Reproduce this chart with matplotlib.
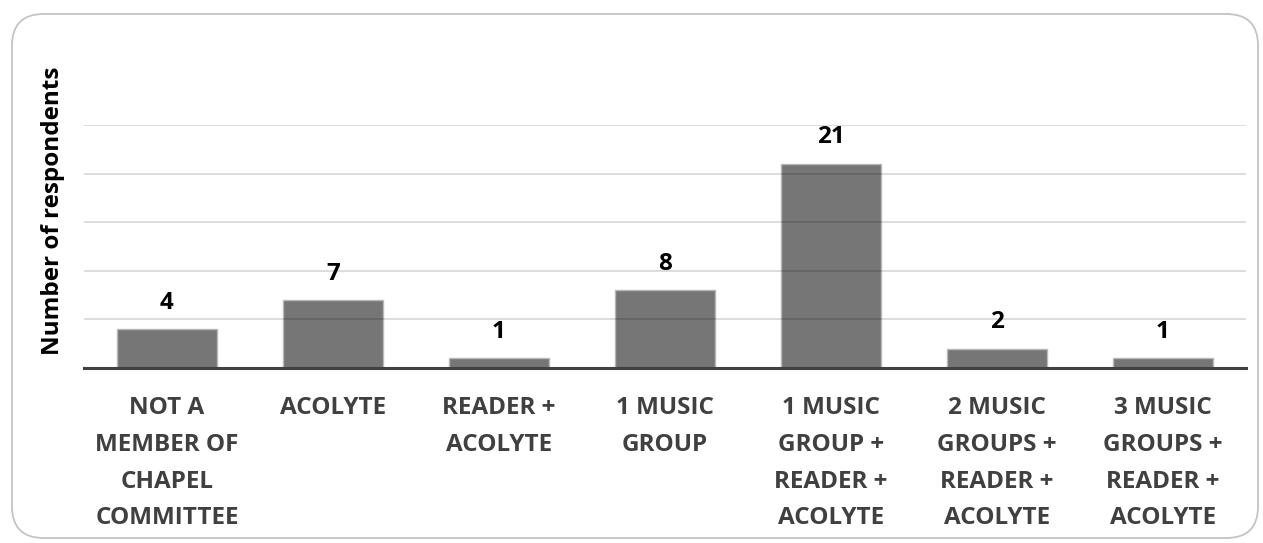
import matplotlib.pyplot as plt
from matplotlib.patches import FancyBboxPatch

categories = [
    "NOT A\nMEMBER OF\nCHAPEL\nCOMMITTEE",
    "ACOLYTE",
    "READER +\nACOLYTE",
    "1 MUSIC\nGROUP",
    "1 MUSIC\nGROUP +\nREADER +\nACOLYTE",
    "2 MUSIC\nGROUPS +\nREADER +\nACOLYTE",
    "3 MUSIC\nGROUPS +\nREADER +\nACOLYTE",
]
respondents = [4, 7, 1, 8, 21, 2, 1]

plt.rcParams['font.family'] = ['Open Sans', 'DejaVu Sans']

fig = plt.figure(figsize=(12.63, 5.43), dpi=100)
ax = fig.add_axes([0.0665, 0.3223, 0.92, 0.4475])

x = range(len(categories))
ax.bar(x, respondents, width=0.6, color='#767676', edgecolor='#b8b8b8',
       linewidth=1, zorder=2)

# value labels above the bars
for xi, v in zip(x, respondents):
    ax.text(xi, v + 2.1, str(v), ha='center', va='baseline',
            fontsize=17.5, fontweight='bold', color='black')

ax.set_xlim(-0.5, len(categories) - 0.5)
ax.set_ylim(0, 25)
ax.set_yticks([5, 10, 15, 20, 25])
ax.yaxis.grid(True, color='black', alpha=0.15, linewidth=1.3, zorder=3)
ax.set_axisbelow(False)
ax.tick_params(axis='y', left=False, labelleft=False)
ax.tick_params(axis='x', bottom=False, pad=17)
ax.set_xticks(list(x))
ax.set_xticklabels(categories, fontsize=17.5, fontweight='bold',
                   color='#404040', linespacing=1.7, va='top')

for side in ['top', 'right', 'left']:
    ax.spines[side].set_visible(False)
ax.spines['bottom'].set_color('#404040')
ax.spines['bottom'].set_linewidth(2.2)
ax.spines['bottom'].set_zorder(4)

ax.set_ylabel("Number of respondents", fontsize=17.5, fontweight='bold',
              color='black')
ax.yaxis.set_label_coords(-0.016, 0.645)

# rounded outer frame
frame = FancyBboxPatch((12 / 1263, 5 / 543), 1246 / 1263, 524 / 543,
                       boxstyle="round,pad=0,rounding_size=0.025",
                       transform=fig.transFigure, fill=False,
                       edgecolor='#c4c4c4', linewidth=1.3,
                       mutation_aspect=1263 / 543)
fig.patches.append(frame)

fig.savefig("out.png", dpi=100)
